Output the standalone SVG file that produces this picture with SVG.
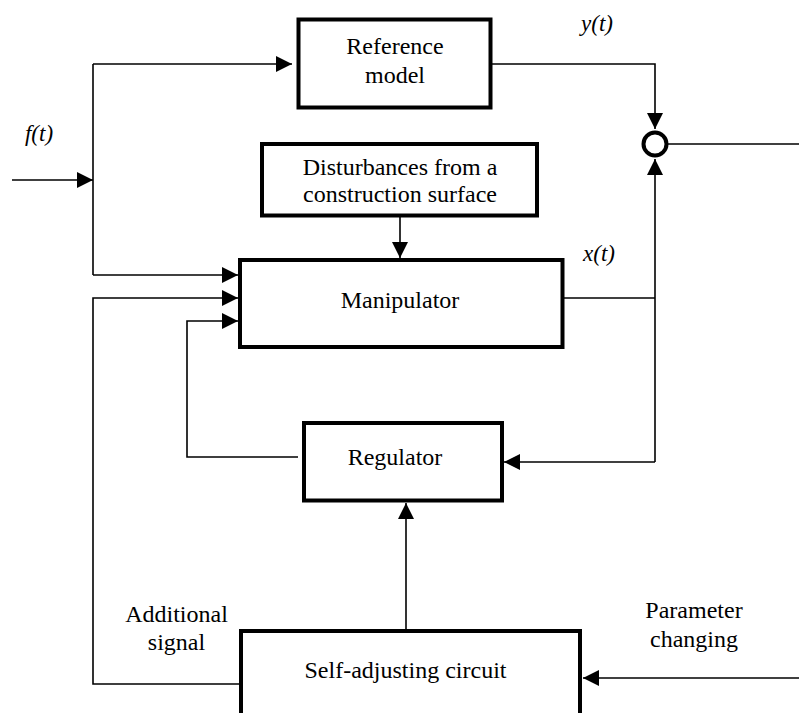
<svg xmlns="http://www.w3.org/2000/svg" width="799" height="713" viewBox="0 0 799 713">
<style>
.box{fill:#fff;stroke:#000;stroke-width:4}
.ln{fill:none;stroke:#000;stroke-width:1.6}
.arr{fill:none;stroke:#000;stroke-width:1.6;marker-end:url(#ah)}
text{font-family:'Liberation Serif','Times New Roman','DejaVu Serif',serif;font-size:24px;fill:#000;text-anchor:middle}
.it{font-style:italic;font-size:23px}
</style>
<defs>
<marker id="ah" markerUnits="userSpaceOnUse" viewBox="0 0 16 16" markerWidth="16" markerHeight="16" refX="16" refY="8" orient="auto">
<path d="M0,0 L16,8 L0,16 z" fill="#000"/>
</marker>
</defs>
<g id="connectors">
<path class="arr" d="M12,180 H93"/>
<path class="ln" d="M93,64 V275"/>
<path class="arr" d="M93,64 H292"/>
<path class="arr" d="M93,275 H238"/>
<path class="arr" d="M241,684 H93 V298 H238"/>
<path class="arr" d="M298,457 H187 V321 H238"/>
<path class="arr" d="M400,216 V258"/>
<path class="arr" d="M490,64 H655 V129"/>
<path class="ln" d="M562,298 H655"/>
<path class="arr" d="M655,462 V159"/>
<path class="arr" d="M655,462 H504"/>
<path class="ln" d="M667,144 H799"/>
<path class="arr" d="M406,631 V503"/>
<path class="arr" d="M799,678 H583"/>
</g>
<g id="reference-model">
<rect class="box" x="298.5" y="19.5" width="192" height="88"/>
<text x="395" y="54" font-family="Liberation Serif, serif">Reference</text>
<text x="395" y="83" font-family="Liberation Serif, serif">model</text>
</g>
<g id="disturbances">
<rect class="box" x="262" y="144" width="275" height="71.5"/>
<text x="400" y="175" font-family="Liberation Serif, serif">Disturbances from a</text>
<text x="400" y="202" font-family="Liberation Serif, serif">construction surface</text>
</g>
<g id="manipulator">
<rect class="box" x="240" y="260" width="322.5" height="87"/>
<text x="400" y="308" font-family="Liberation Serif, serif">Manipulator</text>
</g>
<g id="regulator">
<rect class="box" x="304" y="423" width="198" height="77.5"/>
<text x="395" y="465" font-family="Liberation Serif, serif">Regulator</text>
</g>
<g id="self-adjusting">
<rect class="box" x="241" y="631" width="339" height="100"/>
<text x="405.5" y="678" font-family="Liberation Serif, serif">Self-adjusting circuit</text>
</g>
<g id="sum">
<circle cx="655" cy="144" r="11.5" fill="#fff" stroke="#000" stroke-width="4"/>
</g>
<g id="labels" font-family="Liberation Serif, serif">
<text class="it" x="39" y="141">f(t)</text>
<text class="it" x="597" y="31">y(t)</text>
<text class="it" x="599" y="261">x(t)</text>
<text x="176.5" y="622">Additional</text>
<text x="176.5" y="650">signal</text>
<text x="694" y="618">Parameter</text>
<text x="694" y="647">changing</text>
</g>
</svg>
